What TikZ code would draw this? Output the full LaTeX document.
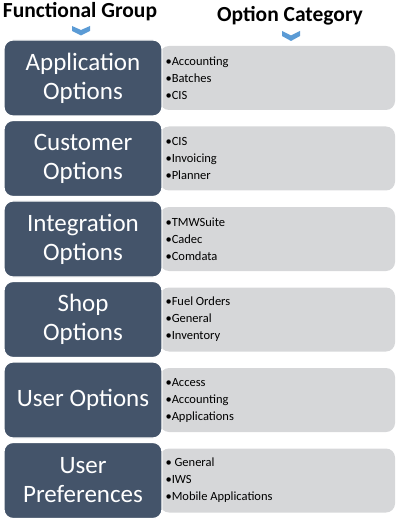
\documentclass[tikz,border=0pt]{standalone}
\usepackage{fontspec}
\setmainfont{Carlito}
\definecolor{groupblue}{HTML}{44546A}
\definecolor{optgray}{HTML}{D6D7D9}
\definecolor{chevblue}{HTML}{5B9BD5}

\begin{document}
\begin{tikzpicture}[x=1pt,y=-1pt,
    group/.style={draw=white, line width=1.2pt, fill=groupblue, rounded corners=9pt,
        minimum width=158pt, minimum height=76pt, text=white, align=center,
        font=\fontsize{25}{29}\selectfont},
    optbox/.style={fill=optgray, rounded corners=9pt, minimum width=235pt, minimum height=64pt},
    optlist/.style={anchor=west, align=left, font=\fontsize{12.5}{17}\selectfont},
    header/.style={font=\fontsize{21.5}{24}\selectfont\bfseries}]
        \useasboundingbox (0,0) rectangle (401,521);

        % Headers and arrows
        \node[header] (fg) at (80,12) {Functional Group};
        \node[header] (oc) at (290,16) {Option Category};
        \fill[chevblue] (72,26) -- (81,30) -- (90,26) -- (90,31) -- (81,35.5) -- (72,31) -- cycle;
        \fill[chevblue] (282,31) -- (291,35.5) -- (300,31) -- (300,36) -- (291,41) -- (282,36) -- cycle;

        % Option categories
        \node[optbox] (o1) at (277.5,78) {};
        \node[optbox] (o2) at (277.5,158.5) {};
        \node[optbox] (o3) at (277.5,239) {};
        \node[optbox] (o4) at (277.5,319.5) {};
        \node[optbox] (o5) at (277.5,400) {};
        \node[optbox] (o6) at (277.5,480.5) {};

        % Functional groups
        \node[group] (g1) at (83,78) {Application\\Options};
        \node[group] (g2) at (83,158.5) {Customer\\Options};
        \node[group] (g3) at (83,239) {Integration\\Options};
        \node[group] (g4) at (83,319.5) {Shop\\Options};
        \node[group] (g5) at (83,400) {User Options};
        \node[group] (g6) at (83,480.5) {User\\Preferences};

        % Lists
        \node[optlist] (l1) at (162,78) {•Accounting\\•Batches\\•CIS};
        \node[optlist] (l2) at (162,158.5) {•CIS\\•Invoicing\\•Planner};
        \node[optlist] (l3) at (162,239) {•TMWSuite\\•Cadec\\•Comdata};
        \node[optlist] (l4) at (162,319.5) {•Fuel Orders\\•General\\•Inventory};
        \node[optlist] (l5) at (162,400) {•Access\\•Accounting\\•Applications};
        \node[optlist] (l6) at (162,480.5) {• General\\•IWS\\•Mobile Applications};

    \end{tikzpicture}
\end{document}
